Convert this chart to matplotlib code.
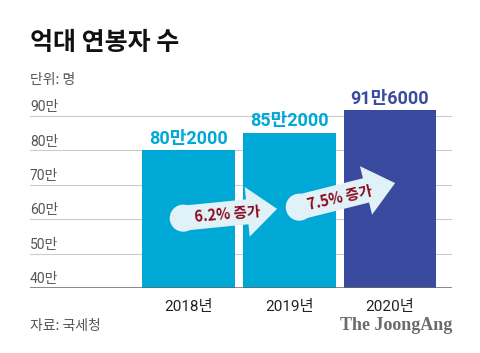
import matplotlib
matplotlib.use("Agg")
import matplotlib.pyplot as plt

plt.rcParams['font.family'] = ['Noto Sans CJK KR', 'DejaVu Sans']
MIX = ['Roboto', 'Noto Sans CJK KR']

years = ["2018년", "2019년", "2020년"]
counts = [80.2, 85.2, 91.6]          # 단위: 만 명
value_labels = ["80만2000", "85만2000", "91만6000"]
ticks = [40, 50, 60, 70, 80, 90]
tick_labels = ["40만", "50만", "60만", "70만", "80만", "90만"]
growth_labels = ["6.2% 증가", "7.5% 증가"]

CYAN = "#00a8d5"
NAVY = "#3a4a9f"
ARROW = "#e1f1f8"
bar_colors = [CYAN, CYAN, NAVY]

fig = plt.figure(figsize=(4.8, 3.53), dpi=100)
ax = fig.add_axes([30 / 480, 65 / 353, 422 / 480, 206.4 / 353])
ax.set_xlim(-1.569, 2.614)
ax.set_ylim(40, 100)
ax.axis("off")

# grid lines + labels
for t, lab in zip(ticks, tick_labels):
    if t == 40:
        ax.axhline(t, color="#666666", lw=1.8, zorder=3)
    else:
        ax.axhline(t, color="#cccccc", lw=0.8, zorder=0)
    ax.text(-1.569, t + 0.5, lab, fontsize=10, color="#555555",
            family=MIX, ha="left", va="bottom")

x = range(len(years))
ax.bar(x, [c - 40 for c in counts], bottom=40, width=0.92,
       color=bar_colors, zorder=1)

for i in x:
    ax.text(i, counts[i] + 0.6, value_labels[i], fontsize=13, weight="bold",
            family=MIX, color=bar_colors[i], ha="center", va="bottom")
    ax.text(i, 36.6, years[i], fontsize=11, color="#222222",
            family=MIX, ha="center", va="top")

# growth arrows
arrows = [((-0.05, 60.3), (0.88, 63.0), (0.39, 61.6), 5),
          ((1.10, 63.5), (2.05, 70.5), (1.50, 66.3), 13)]
for (tail, tip, mid, rot), lab in zip(arrows, growth_labels):
    ax.annotate("", xy=tip, xytext=tail, zorder=4,
                arrowprops=dict(arrowstyle="simple,head_length=1.2,head_width=2.0,tail_width=1.0",
                                fc=ARROW, ec="none", shrinkA=0, shrinkB=0,
                                mutation_scale=18))
    ax.scatter([tail[0]], [tail[1]], s=380, color=ARROW, zorder=4,
               edgecolors="none")
    ax.text(mid[0], mid[1], lab, fontsize=10.5, weight="bold", color="#8c0b1e",
            rotation=rot, ha="center", va="center", zorder=5,
            rotation_mode="anchor")

fig.text(30 / 480, 1 - 43 / 353, "억대 연봉자 수", fontsize=18, weight="heavy",
         color="#111111", ha="left", va="center")
fig.text(30 / 480, 1 - 80 / 353, "단위: 명", fontsize=10, color="#555555",
         ha="left", va="center")
fig.text(30 / 480, 1 - 326 / 353, "자료: 국세청", fontsize=10, color="#555555",
         ha="left", va="center")
fig.text(452 / 480, 1 - 326 / 353, "The JoongAng", fontsize=13, weight="bold",
         family="Liberation Serif", color="#6b6b6b", ha="right", va="center")

fig.savefig("out.png", dpi=100)
